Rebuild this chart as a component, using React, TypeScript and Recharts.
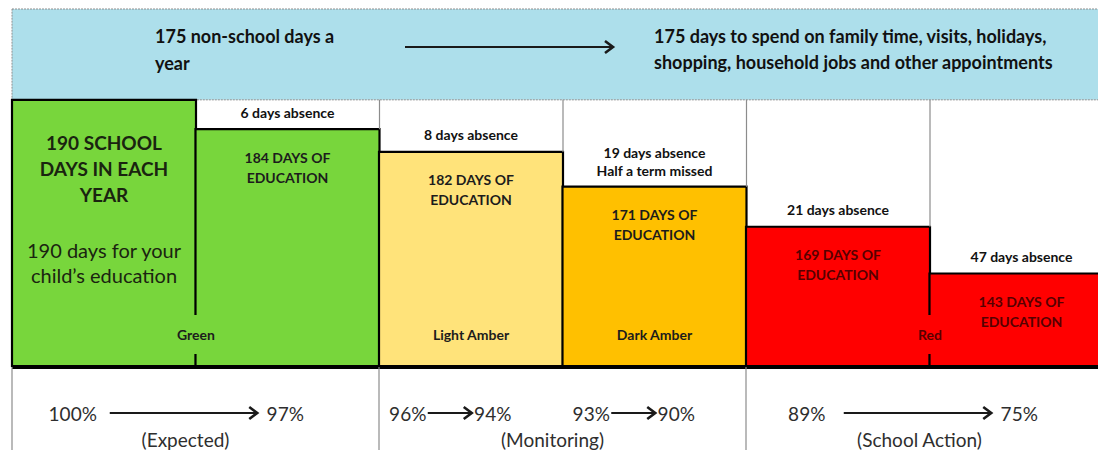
import { Bar, Cell, ComposedChart, LabelList, ReferenceArea, XAxis, YAxis } from 'recharts'

// one column per attendance band
const zones = ['School year', 'Green', 'Light Amber', 'Dark Amber', 'Red', 'Red (low)']
const educationDays = [190, 184, 182, 171, 169, 143]
const absenceDays = [0, 6, 8, 19, 21, 47]
const absenceNotes = ['', '', '', 'Half a term missed', '', '']
// block height as % of the full school-year block (the picture is not to scale)
const blockLevels = [100, 89, 80.5, 67.5, 52.5, 35]
const zoneNames = ['Green', '', 'Light Amber', 'Dark Amber', 'Red', '']
const rangeFrom = ['100%', '', '96%', '93%', '89%', '']
const rangeTo = ['', '97%', '94%', '90%', '', '75%']
const groupCaptions = ['(Expected)', '', '(Monitoring)', '', '(School Action)', '']
const bannerLeft = ['175 non-school days a', 'year']
const bannerRight = [
    '175 days to spend on family time, visits, holidays,',
    'shopping, household jobs and other appointments',
]
const headline = ['190 SCHOOL', 'DAYS IN EACH', 'YEAR']
const headlineSub = ['190 days for your', 'child\u2019s education']

const fills = ['#78d63c', '#78d63c', '#ffe37a', '#ffc000', '#ff0000', '#ff0000']
const FONT = 'Lato, "Open Sans", sans-serif'
const CHART_W = 1113
const CHART_H = 450
const LEFT = 12
const STEP = (CHART_W - LEFT) / zones.length
const AXIS_H = 83

const data = zones.map((zone, i) => ({
    zone,
    days: educationDays[i],
    level: blockLevels[i],
    gap: 100 - blockLevels[i],
}))

const textFor = (fill: string) => (fill === '#ff0000' ? '#560000' : '#1c1c1c')

const Arrow = ({ x1, x2, y }: { x1: number, x2: number, y: number }) => (
    <g stroke="#1a1a1a" fill="none">
        <line x1={x1} x2={x2 - 1} y1={y} y2={y} strokeWidth={2.2} />
        <polyline points={`${x2 - 8},${y - 6} ${x2},${y} ${x2 - 8},${y + 6}`} strokeWidth={2.6} />
    </g>
)

const renderBanner = (props: any) => {
    const vb = props.viewBox
    const lx = vb.x + 143
    const rx = vb.x + 642
    const t = vb.y
    return (
        <g fontFamily={FONT} fontWeight={700} fontSize={18} fill="#111">
            {bannerLeft.map((s, k) => (
                <text key={'l' + k} x={lx} y={t + 27 + k * 27} dominantBaseline="central">{s}</text>
            ))}
            <Arrow x1={vb.x + 393} x2={vb.x + 601} y={t + 38} />
            {bannerRight.map((s, k) => (
                <text key={'r' + k} x={rx} y={t + 27 + k * 26} dominantBaseline="central">{s}</text>
            ))}
        </g>
    )
}

const renderBlockLabel = (props: any) => {
    const i: number = props.index
    const vb = props.viewBox ?? props
    const { x, y, width, height } = vb
    const cx = x + width / 2
    const bottom = y + height
    const fill = fills[i]
    const ink = textFor(fill)
    const zone = zoneNames[i]
    const onEdge = i + 1 < fills.length && fills[i + 1] === fill
    const zx = onEdge ? x + width : cx
    return (
        <g fontFamily={FONT} textAnchor="middle">
            {i === 0 ? (
                <>
                    {headline.map((s, k) => (
                        <text key={k} x={cx} y={y + 43 + k * 26} fontSize={19} fontWeight={700} fill="#1a2410" dominantBaseline="central">{s}</text>
                    ))}
                    {headlineSub.map((s, k) => (
                        <text key={'s' + k} x={cx} y={y + 150 + k * 25} fontSize={20} fill="#1a2410" dominantBaseline="central">{s}</text>
                    ))}
                </>
            ) : (
                <>
                    <text x={cx} y={y - (absenceNotes[i] ? 34 : 17)} fontSize={14} fontWeight={700} fill="#111" dominantBaseline="central">
                        {`${absenceDays[i]} days absence`}
                    </text>
                    {absenceNotes[i] && (
                        <text x={cx} y={y - 16} fontSize={14} fontWeight={700} fill="#111" dominantBaseline="central">{absenceNotes[i]}</text>
                    )}
                    <text x={cx} y={y + 28} fontSize={14} fontWeight={700} fill={ink} dominantBaseline="central">{`${educationDays[i]} DAYS OF`}</text>
                    <text x={cx} y={y + 48} fontSize={14} fontWeight={700} fill={ink} dominantBaseline="central">EDUCATION</text>
                </>
            )}
            {zone && (
                <>
                    {onEdge && <rect x={zx - 24} y={bottom - 52} width={48} height={39} fill={fill} />}
                    <text x={zx} y={bottom - 33} fontSize={14} fontWeight={700} fill={ink} dominantBaseline="central">{zone}</text>
                </>
            )}
        </g>
    )
}

const GapShape = (props: any) => {
    const { x, y, width, height, index } = props
    if (!height || index === zones.length - 1) return <g />
    return <line x1={x + width} x2={x + width} y1={y} y2={y + height} stroke="#8c8c8c" strokeWidth={1.2} />
}

const RangeTick = (props: any) => {
    const { x, y } = props
    const i: number = props.index ?? props.payload?.index ?? 0
    const from = rangeFrom[i]
    const to = rangeTo[i]
    const cap = groupCaptions[i]
    const rowY = y + 46
    return (
        <g fontFamily={FONT} fontSize={19} fill="#2e2e2e" textAnchor="middle">
            {cap && <line x1={x - STEP / 2} x2={x - STEP / 2} y1={y} y2={y + AXIS_H} stroke="#8c8c8c" strokeWidth={1.2} />}
            {from && to && (
                <>
                    <text x={x - 63} y={rowY} dominantBaseline="central">{from}</text>
                    <Arrow x1={x - 43} x2={x + 1} y={rowY} />
                    <text x={x + 22} y={rowY} dominantBaseline="central">{to}</text>
                </>
            )}
            {from && !to && (
                <>
                    <text x={x - 31} y={rowY} dominantBaseline="central">{from}</text>
                    <Arrow x1={x + 6} x2={x + STEP - 30} y={rowY} />
                </>
            )}
            {to && !from && <text x={x - 2} y={rowY} dominantBaseline="central">{to}</text>}
            {cap && <text x={x + STEP / 2 - 10} y={y + 72} dominantBaseline="central">{cap}</text>}
        </g>
    )
}

const App = () => {
    return (
        <div style={{ position: 'absolute', left: 0, top: 0, width: 1098, height: 450, overflow: 'hidden', background: '#fff' }}>
            <ComposedChart
                width={CHART_W}
                height={CHART_H}
                data={data}
                margin={{ top: 9, right: 0, bottom: 0, left: LEFT }}
                barCategoryGap={0}
                barGap={0}
            >
                <YAxis hide domain={[0, 134]} allowDataOverflow />
                <XAxis
                    dataKey="zone"
                    height={AXIS_H}
                    interval={0}
                    tickLine={false}
                    tickSize={0}
                    tickMargin={0}
                    axisLine={{ stroke: '#000', strokeWidth: 4 }}
                    tick={<RangeTick />}
                />
                <ReferenceArea
                    y1={100}
                    y2={134}
                    fill="#addfeb"
                    fillOpacity={1}
                    stroke="#8f8f8f"
                    strokeDasharray="2 1"
                    label={renderBanner}
                />
                <Bar dataKey="level" stackId="s" stroke="#000" strokeWidth={2.2} isAnimationActive={false}>
                    {data.map((d, i) => <Cell key={d.zone} fill={fills[i]} />)}
                    <LabelList dataKey="days" content={renderBlockLabel} />
                </Bar>
                <Bar dataKey="gap" stackId="s" fill="none" shape={GapShape} isAnimationActive={false} />
            </ComposedChart>
        </div>
    )
}

export default App
